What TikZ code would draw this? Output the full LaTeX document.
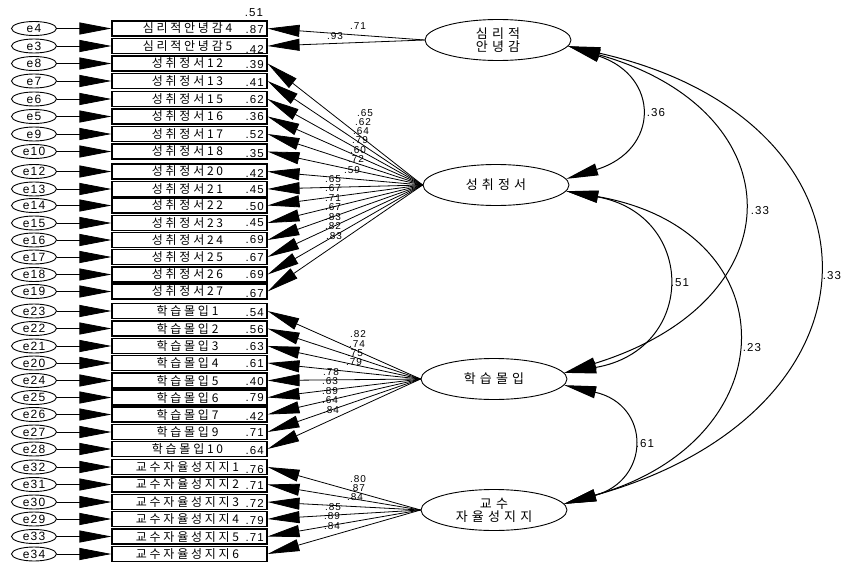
\documentclass[tikz,border=0pt]{standalone}
\usepackage{fontspec}
\setmainfont{Liberation Sans}
\newfontfamily\krfont[LetterSpace=23]{Noto Sans CJK KR}
\newfontfamily\krbig[LetterSpace=32]{Noto Sans CJK KR}
\newfontfamily\numfont[LetterSpace=10]{Liberation Sans}
\usetikzlibrary{arrows.meta,shapes.geometric}
\tikzset{
 ind/.style={draw, line width=1.1pt, minimum width=155pt, minimum height=15pt, inner sep=0pt, font=\krfont\fontsize{12}{12}\selectfont},
 err/.style={draw, ellipse, line width=0.9pt, minimum width=45pt, minimum height=14pt, inner sep=0pt, font=\numfont\fontsize{12}{12}\selectfont},
 lat/.style={draw, ellipse, line width=0.9pt, minimum width=146pt, minimum height=41pt, inner sep=0pt, align=center, font=\krbig\fontsize{13}{13}\selectfont},
 num/.style={inner sep=0pt, font=\numfont\fontsize{11.5}{11.5}\selectfont},
 ld/.style={inner sep=0pt, font=\numfont\fontsize{10}{10}\selectfont},
 tipT/.tip={Triangle[length=32pt,width=12pt]},
 arr/.style={line width=0.8pt, -tipT},
 cov/.style={line width=1pt, tipT-tipT},
}
\begin{document}
\begin{tikzpicture}[x=1pt,y=-1pt]
\useasboundingbox (0,0) rectangle (844,565);
% latent factors
\node[lat] (F1) at (498,40) {심리적\\안녕감};
\node[lat] (F2) at (496,185) {성취정서};
\node[lat] (F3) at (494,379) {학습몰입};
\node[lat] (F4) at (494,510) {교수\\자율성지지};
% indicators, errors, R2
\foreach \en/\lab/\yy/\rr/\ry/\fac in {
 e4/심리적안녕감4/28.5/.87/30/F1,
 e3/심리적안녕감5/46/.42/49/F1,
 e8/성취정서12/63.5/.39/65/F2,
 e7/성취정서13/81/.41/83/F2,
 e6/성취정서15/99/.62/100/F2,
 e5/성취정서16/116.5/.36/117/F2,
 e9/성취정서17/134/.52/135/F2,
 e10/성취정서18/151.5/.35/154/F2,
 e12/성취정서20/171.5/.42/173/F2,
 e13/성취정서21/189/.45/190/F2,
 e14/성취정서22/205.5/.50/207/F2,
 e15/성취정서23/223/.45/223/F2,
 e16/성취정서24/240/.69/240/F2,
 e17/성취정서25/257/.67/258/F2,
 e18/성취정서26/274.5/.69/275/F2,
 e19/성취정서27/291.5/.67/294/F2,
 e23/학습몰입1/311/.54/313/F3,
 e22/학습몰입2/328.5/.56/330/F3,
 e21/학습몰입3/346/.63/347/F3,
 e20/학습몰입4/363/.61/364/F3,
 e24/학습몰입5/380.5/.40/382/F3,
 e25/학습몰입6/397.5/.79/398/F3,
 e26/학습몰입7/414.5/.42/416/F3,
 e27/학습몰입9/432/.71/433/F3,
 e28/학습몰입10/449/.64/451/F3,
 e32/교수자율성지지1/467/.76/470/F4,
 e31/교수자율성지지2/484.5/.71/486/F4,
 e30/교수자율성지지3/502/.72/503/F4,
 e29/교수자율성지지4/519/.79/521/F4,
 e33/교수자율성지지5/536.5/.71/538/F4}{
 \node[ind] (b\en) at (189.5,\yy) {\lab\hspace*{4pt}};
 \node[err] (\en) at (34,\yy) {\en};
 \node[num, anchor=east] (r\en) at (264,\ry) {\rr};
 \draw[arr] (\en) -- (b\en);
 \draw[arr] (\fac.west) -- (b\en.east);
}
\node[ind] (be34) at (189.5,554) {교수자율성지지6\hspace*{4pt}};
\node[err] (e34) at (34,554) {e34};
\draw[arr] (e34) -- (be34);
\draw[arr] (F4.west) -- (be34.east);
\node[num] (r51) at (254,13) {.51};
% loadings
\node[ld] (l1) at (358,26) {.71};
\node[ld] (l2) at (335,36) {.93};
\foreach \v/\px/\py [count=\i] in {.65/365/113,.62/363/122,.64/361/131,.79/360/140,.60/358/150,.72/356/159,.59/352/170,.65/333/179,.67/333/188,.71/333/198,.67/333/207,.83/333/217,.82/333/226,.83/334/236}{
 \node[ld] (la\i) at (\px,\py) {\v};
}
\foreach \v/\px/\py [count=\i] in {.82/358/334,.74/357/344,.75/355/353,.79/354/362,.78/331/372,.63/330/381,.89/330/391,.64/330/400,.84/331/410}{
 \node[ld] (lb\i) at (\px,\py) {\v};
}
\foreach \v/\px/\py [count=\i] in {.80/358/479,.87/357/488,.84/355/497,.85/333/507,.89/332/516,.84/332/526}{
 \node[ld] (lc\i) at (\px,\py) {\v};
}
% correlations
\draw[cov] (F1.-5) .. controls (660,76) and (660,150) .. (F2.5);
\draw[cov] (F1.-5) .. controls (795,110) and (800,300) .. (F3.5);
\draw[cov] (F1.-5) .. controls (895,120) and (900,410) .. (F4.5);
\draw[cov] (F2.-5) .. controls (697,215) and (697,350) .. (F3.5);
\draw[cov] (F2.-5) .. controls (790,230) and (790,440) .. (F4.5);
\draw[cov] (F3.-5) .. controls (651,405) and (651,480) .. (F4.5);
\node[num] (c1) at (656,113) {.36};
\node[num] (c2) at (760,211) {.33};
\node[num] (c3) at (832,276) {.33};
\node[num] (c4) at (680,283) {.51};
\node[num] (c5) at (752,348) {.23};
\node[num] (c6) at (645,444) {.61};
\end{tikzpicture}
\end{document}
